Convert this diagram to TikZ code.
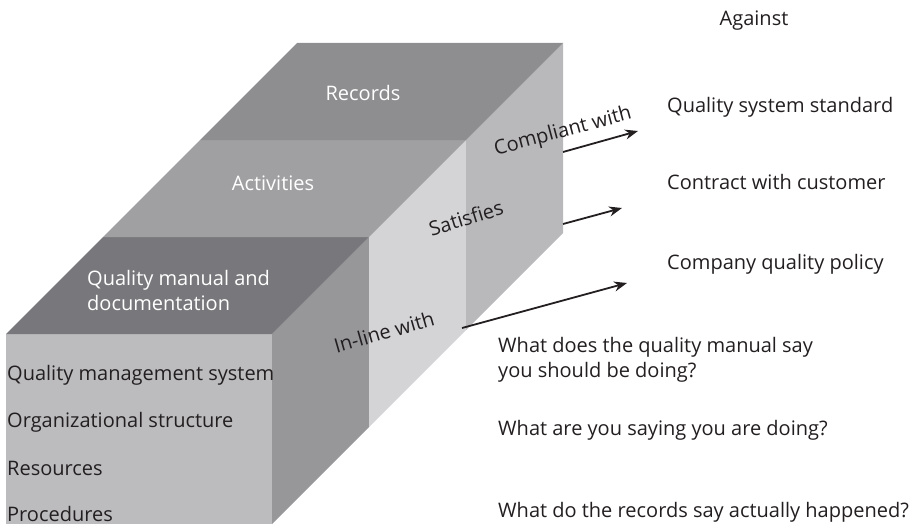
\documentclass[tikz,border=0pt]{standalone}
\usepackage{fontspec}
\setmainfont{Open Sans}
\usetikzlibrary{arrows.meta,positioning,calc}
\definecolor{qdark}{RGB}{35,31,32}
\definecolor{qfront}{RGB}{188,188,191}
\definecolor{qmtop}{RGB}{120,120,124}
\definecolor{acttop}{RGB}{160,160,163}
\definecolor{rectop}{RGB}{142,142,145}
\definecolor{qmside}{RGB}{151,151,154}
\definecolor{actside}{RGB}{212,212,214}
\definecolor{recside}{RGB}{185,185,188}

\begin{document}
\begin{tikzpicture}[x=1pt,y=-1pt,
  facetxt/.style={text=white,font=\fontsize{20}{25}\selectfont,inner sep=0pt},
  lbl/.style={text=qdark,font=\fontsize{20}{25}\selectfont,anchor=west,align=left,inner sep=0pt},
  rellbl/.style={text=qdark,font=\fontsize{20}{25}\selectfont,inner sep=0pt},
  relarrow/.style={-{Stealth[length=13pt,width=10pt]},line width=1.8pt,qdark}]
  \useasboundingbox (0,0) rectangle (918,527);
  % Side faces
  \fill[qmside] (272,334) -- (369,237) -- (369,427) -- (272,524) -- cycle;
  \fill[actside] (369,237) -- (466,140) -- (466,330) -- (369,427) -- cycle;
  \fill[recside] (466,140) -- (563,43) -- (563,233) -- (466,330) -- cycle;
  % Front face
  \fill[qfront] (6,334) rectangle (272,524);
  % Top faces
  \fill[qmtop] (6,334) -- (272,334) -- (369,237) -- (103,237) -- cycle;
  \fill[acttop] (103,237) -- (369,237) -- (466,140) -- (200,140) -- cycle;
  \fill[rectop] (200,140) -- (466,140) -- (563,43) -- (297,43) -- cycle;
  % Labels on the box
  \node[facetxt] (rec) at (363,93) {Records};
  \node[facetxt] (act) at (273,183) {Activities};
  \node[facetxt,anchor=west,align=left] (qman) at (87,290) {Quality manual and\\documentation};
  \node[lbl] (qms) at (7,375) {Quality management system};
  \node[lbl] (org) at (7,422) {Organizational structure};
  \node[lbl] (res) at (7,468) {Resources};
  \node[lbl] (proc) at (7,514) {Procedures};
  % Relations
  \node[rellbl,rotate=15] (comp) at (563,132) {Compliant with};
  \node[rellbl,rotate=17] (sat) at (466,218) {Satisfies};
  \node[rellbl,rotate=16] (inl) at (384,332) {In-line with};
  % Against
  \node[rellbl] (against) at (754,21) {Against};
  \node[lbl] (std) at (667,107) {Quality system standard};
  \node[lbl] (cust) at (667,182) {Contract with customer};
  \node[lbl] (pol) at (667,264) {Company quality policy};
  % Questions
  \node[lbl] (qa) at (498,360) {What does the quality manual say\\you should be doing?};
  \node[lbl] (qb) at (498,430) {What are you saying you are doing?};
  \node[lbl] (qc) at (498,512) {What do the records say actually happened?};
  % Arrows
  \coordinate (comps) at (563,152);
  \coordinate (compe) at (638,131);
  \coordinate (sats) at (563,224);
  \coordinate (sate) at (622,208);
  \coordinate (inls) at (462,328);
  \coordinate (inle) at (627,283);
  \draw[relarrow] (comps) -- (compe);
  \draw[relarrow] (sats) -- (sate);
  \draw[relarrow] (inls) -- (inle);
\end{tikzpicture}
\end{document}
